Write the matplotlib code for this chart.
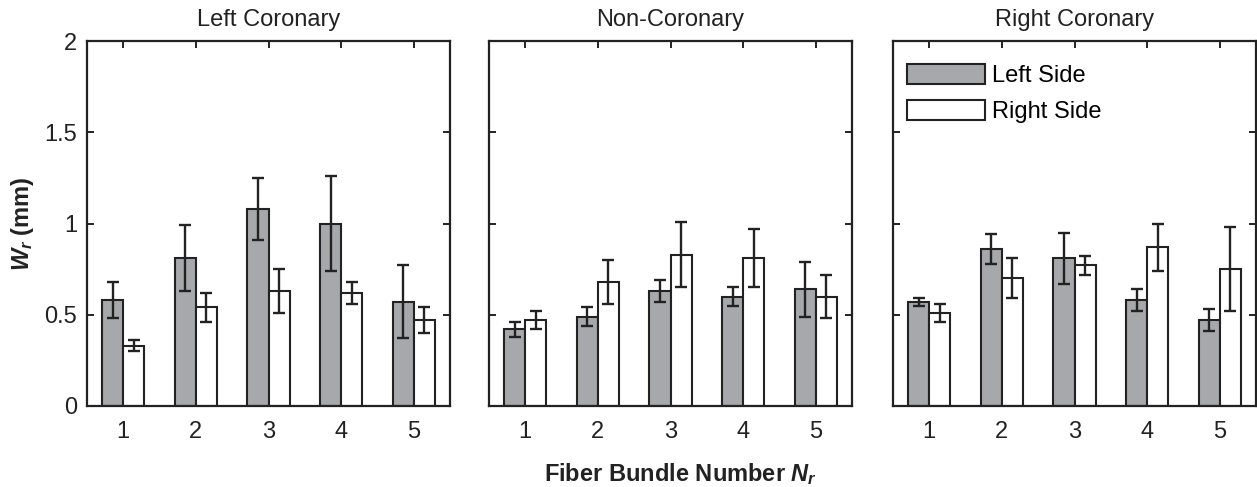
import matplotlib
matplotlib.use("Agg")
import matplotlib.pyplot as plt
import numpy as np

plt.rcParams["font.family"] = ["Liberation Sans", "DejaVu Sans"]
plt.rcParams["mathtext.fontset"] = "custom"
plt.rcParams["mathtext.it"] = "Liberation Sans:italic:bold"
plt.rcParams["mathtext.rm"] = "Liberation Sans:bold"
plt.rcParams["mathtext.bf"] = "Liberation Sans:bold"

bundles = [1, 2, 3, 4, 5]
panel_titles = ["Left Coronary", "Non-Coronary", "Right Coronary"]
series_names = ["Left Side", "Right Side"]

left_means = [
    [0.58, 0.81, 1.08, 1.00, 0.57],
    [0.42, 0.49, 0.63, 0.60, 0.64],
    [0.57, 0.86, 0.81, 0.58, 0.47],
]
left_errs = [
    [0.10, 0.18, 0.17, 0.26, 0.20],
    [0.04, 0.05, 0.06, 0.05, 0.15],
    [0.02, 0.08, 0.14, 0.06, 0.06],
]
right_means = [
    [0.33, 0.54, 0.63, 0.62, 0.47],
    [0.47, 0.68, 0.83, 0.81, 0.60],
    [0.51, 0.70, 0.77, 0.87, 0.75],
]
right_errs = [
    [0.03, 0.08, 0.12, 0.06, 0.07],
    [0.05, 0.12, 0.18, 0.16, 0.12],
    [0.05, 0.11, 0.05, 0.13, 0.23],
]

GRAY = "#a7a8ab"
EDGE = "#222222"
W = 0.29
FS = 17

fig = plt.figure(figsize=(12.57, 4.87), dpi=100)
lefts = [87 / 1257, 489 / 1257, 893 / 1257]
bottom = 1 - 406 / 487
height = 365 / 487
width = 363 / 1257

x = np.array(bundles, dtype=float)
for i, title in enumerate(panel_titles):
    ax = fig.add_axes([lefts[i], bottom, width, height])
    ax.bar(x - W / 2, left_means[i], W, color=GRAY, edgecolor=EDGE,
           linewidth=1.5, label=series_names[0], zorder=2)
    ax.bar(x + W / 2, right_means[i], W, color="white", edgecolor=EDGE,
           linewidth=1.5, label=series_names[1], zorder=2)
    ax.errorbar(x - W / 2, left_means[i], yerr=left_errs[i], fmt="none",
                ecolor=EDGE, elinewidth=1.7, capsize=4, capthick=1.7, zorder=3)
    ax.errorbar(x + W / 2, right_means[i], yerr=right_errs[i], fmt="none",
                ecolor=EDGE, elinewidth=1.7, capsize=4, capthick=1.7, zorder=3)
    ax.set_xlim(0.5, 5.5)
    ax.set_ylim(0, 2)
    ax.set_xticks(bundles)
    ax.set_yticks([0, 0.5, 1, 1.5, 2])
    ax.set_yticklabels(["0", "0.5", "1", "1.5", "2"])
    ax.tick_params(direction="in", top=True, right=True, length=5,
                   width=1.4, labelsize=FS, colors=EDGE)
    ax.tick_params(axis="x", pad=11)
    ax.tick_params(axis="y", pad=7)
    if i > 0:
        ax.tick_params(labelleft=False)
    for sp in ax.spines.values():
        sp.set_linewidth(1.6)
        sp.set_color(EDGE)
    ax.set_title(title, fontsize=FS, pad=11, color=EDGE)
    if i == 0:
        ax.set_ylabel(r"$W_r$ (mm)", fontsize=FS, fontweight="bold",
                      labelpad=6, color=EDGE)
    if i == 2:
        ax.legend(loc="upper left", frameon=False, fontsize=FS,
                  handlelength=3.3, handleheight=0.9, labelspacing=0.55,
                  handletextpad=0.3, borderaxespad=0.2,
                  bbox_to_anchor=(0.0, 0.975))

fig.text(681 / 1257, 1 - 481 / 487, r"Fiber Bundle Number $N_r$", ha="center",
         va="baseline", fontsize=FS, fontweight="bold", color=EDGE)

fig.savefig("out.png", dpi=100)
